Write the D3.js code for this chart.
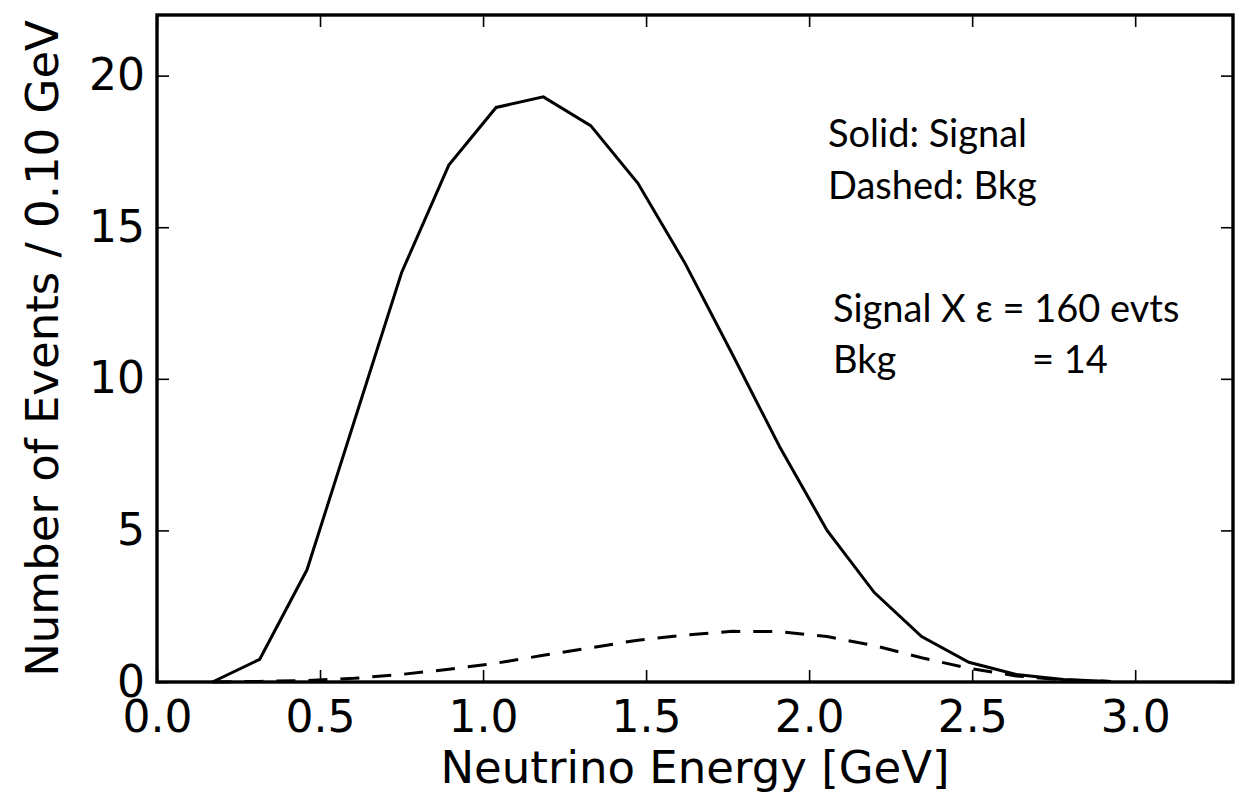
<!DOCTYPE html>
<html>
<head>
<meta charset="utf-8">
<script src="https://cdn.jsdelivr.net/npm/d3@7"></script>
<style>
  body { margin: 0; background: #fff; }
  .axis text { font-family: "DejaVu Sans", sans-serif; font-size: 44px; fill: #000; }
  .axis line { stroke: #000; stroke-width: 1.6px; }
  .axis .domain { display: none; }
  .label { font-family: "DejaVu Sans", sans-serif; font-size: 45px; fill: #000; }
  .note { font-family: Lato, sans-serif; font-size: 38px; fill: #000; }
</style>
</head>
<body>
<div id="chart"></div>
<script>

// bin centres (GeV) and counts per 0.10 GeV
var energy = [0.17, 0.315, 0.46, 0.605, 0.75, 0.895, 1.04, 1.185, 1.33, 1.475,
              1.62, 1.765, 1.91, 2.055, 2.2, 2.345, 2.49, 2.635, 2.78, 2.925];
var signal = [0.0, 0.75, 3.7, 8.6, 13.5, 17.05, 18.95, 19.3, 18.35, 16.45,
              13.8, 10.8, 7.75, 5.0, 2.95, 1.5, 0.65, 0.25, 0.08, 0.02];
var background = [0.0, 0.02, 0.05, 0.12, 0.25, 0.42, 0.62, 0.88, 1.13, 1.38,
                  1.55, 1.67, 1.66, 1.5, 1.2, 0.8, 0.45, 0.2, 0.07, 0.02];

var xTicks = [0.0, 0.5, 1.0, 1.5, 2.0, 2.5, 3.0];
var yTicks = [0, 5, 10, 15, 20];

var notes = ["Solid: Signal", "Dashed: Bkg", "Signal X \u03b5 = 160 evts"];

var margin = {top: 15, right: 17, bottom: 113, left: 157},
    width = 1250 - margin.left - margin.right,
    height = 795 - margin.top - margin.bottom;

var x = d3.scaleLinear()
    .domain([0, 3.3])
    .range([0, width]);

var y = d3.scaleLinear()
    .domain([0, 22])
    .range([height, 0]);

var svg = d3.select("#chart").append("svg")
    .attr("width", width + margin.left + margin.right)
    .attr("height", height + margin.top + margin.bottom)
  .append("g")
    .attr("transform", "translate(" + margin.left + "," + margin.top + ")");

// inward ticks on all four sides, labels only bottom and left
svg.append("g")
    .attr("class", "axis")
    .attr("transform", "translate(0," + height + ")")
    .call(d3.axisBottom(x).tickValues(xTicks).tickFormat(d3.format(".1f"))
      .tickSizeInner(-12).tickSizeOuter(0).tickPadding(19));

svg.append("g")
    .attr("class", "axis")
    .call(d3.axisTop(x).tickValues(xTicks).tickFormat("")
      .tickSizeInner(-12).tickSizeOuter(0));

svg.append("g")
    .attr("class", "axis")
    .call(d3.axisLeft(y).tickValues(yTicks).tickFormat(d3.format("d"))
      .tickSizeInner(-12).tickSizeOuter(0).tickPadding(12));

svg.append("g")
    .attr("class", "axis")
    .attr("transform", "translate(" + width + ",0)")
    .call(d3.axisRight(y).tickValues(yTicks).tickFormat("")
      .tickSizeInner(-12).tickSizeOuter(0));

var line = d3.line()
    .x(function(d) { return x(d[0]); })
    .y(function(d) { return y(d[1]); });

svg.append("path")
    .datum(d3.zip(energy, background))
    .attr("d", line)
    .style("fill", "none")
    .style("stroke", "#000")
    .style("stroke-width", 3)
    .style("stroke-dasharray", "19,13");

svg.append("path")
    .datum(d3.zip(energy, signal))
    .attr("d", line)
    .style("fill", "none")
    .style("stroke", "#000")
    .style("stroke-width", 3)
    .style("stroke-linejoin", "miter");

svg.append("rect")
    .attr("width", width)
    .attr("height", height)
    .style("fill", "none")
    .style("stroke", "#000")
    .style("stroke-width", 3.4);

svg.append("text")
    .attr("class", "label")
    .attr("x", width / 2)
    .attr("y", height + 101)
    .style("text-anchor", "middle")
    .text("Neutrino Energy [GeV]");

svg.append("text")
    .attr("class", "label")
    .attr("transform", "rotate(-90)")
    .attr("x", -height / 2)
    .attr("y", -99)
    .style("text-anchor", "middle")
    .text("Number of Events / 0.10 GeV");

// annotation block, top right
svg.append("text").attr("class", "note")
    .attr("x", 671).attr("y", 132).text(notes[0]);
svg.append("text").attr("class", "note")
    .attr("x", 671).attr("y", 184).text(notes[1]);
svg.append("text").attr("class", "note")
    .attr("x", 676).attr("y", 307).text(notes[2]);
svg.append("text").attr("class", "note")
    .attr("x", 676).attr("y", 358).text("Bkg");
svg.append("text").attr("class", "note")
    .attr("x", 875).attr("y", 358).text("= 14");

</script>
</body>
</html>
